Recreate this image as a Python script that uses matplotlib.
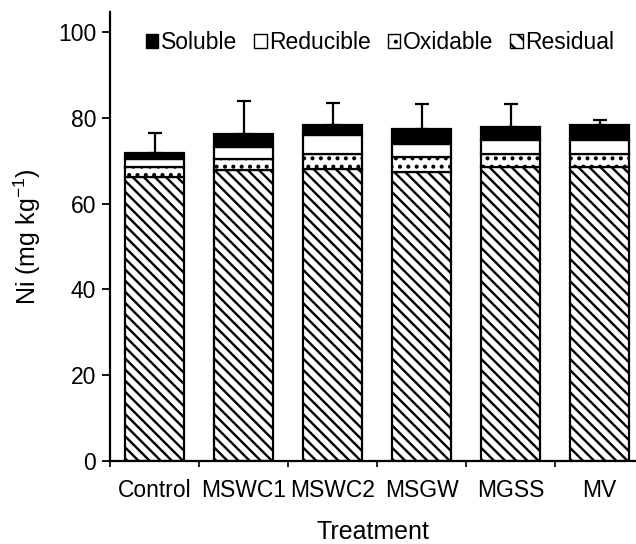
import matplotlib.pyplot as plt
import numpy as np
from matplotlib.patches import Patch

plt.rcParams['font.family'] = ['Liberation Sans', 'DejaVu Sans']
plt.rcParams['mathtext.default'] = 'regular'
plt.rcParams['hatch.linewidth'] = 1.7

treatments = ['Control', 'MSWC1', 'MSWC2', 'MSGW', 'MGSS', 'MV']
residual = [66.2, 67.8, 68.2, 67.3, 68.5, 68.5]
oxidable = [2.4, 2.6, 3.4, 3.5, 3.1, 3.1]
reducible = [1.7, 2.9, 4.3, 3.0, 3.3, 3.3]
soluble = [1.5, 3.0, 2.4, 3.7, 3.0, 3.4]
err_up = [4.7, 7.7, 5.2, 5.7, 5.3, 1.2]

fig = plt.figure(figsize=(6.36, 5.44), dpi=100)
ax = fig.add_axes([0.173, 0.1526, 0.827, 0.8254])

x = np.arange(len(treatments))
w = 0.67
bottom = np.zeros(len(x))
fracs = [
    ('Residual', residual, 'white', '\\\\\\'),
    ('Oxidable', oxidable, 'white', '..'),
    ('Reducible', reducible, 'white', None),
    ('Soluble', soluble, 'black', None),
]
for name, vals, fc, h in fracs:
    ax.bar(x, vals, w, bottom=bottom, color=fc, edgecolor='black',
           linewidth=1.6, hatch=h, zorder=2)
    bottom += np.array(vals)

ax.errorbar(x, bottom, yerr=[np.zeros(len(x)), err_up], fmt='none',
            ecolor='black', elinewidth=1.6, capsize=5, capthick=1.6, zorder=1)

ax.set_xlim(-0.5, 5.41)
ax.set_ylim(0, 104.7)
ax.set_yticks([0, 20, 40, 60, 80, 100])
ax.set_xticks(np.arange(-0.5, 5.0, 1.0))
ax.set_xticklabels([])
ax.set_xticks(x, minor=True)
ax.set_xticklabels(treatments, minor=True)
ax.tick_params(axis='x', which='minor', length=0, labelsize=16.5, pad=13)
ax.tick_params(axis='x', which='major', length=4, width=1.2, direction='out')
ax.tick_params(axis='y', length=6, width=1.3, labelsize=16.5, pad=4)
for s in ['top', 'right']:
    ax.spines[s].set_visible(False)
for s in ['left', 'bottom']:
    ax.spines[s].set_linewidth(1.6)

ax.set_ylabel('Ni (mg kg$^{-1}$)', fontsize=18, labelpad=11)
ax.set_xlabel('Treatment', fontsize=18, labelpad=13)

handles = [
    Patch(facecolor='black', edgecolor='black', label='Soluble'),
    Patch(facecolor='white', edgecolor='black', label='Reducible'),
    Patch(facecolor='white', edgecolor='black', hatch='..', label='Oxidable'),
    Patch(facecolor='white', edgecolor='black', hatch='\\\\', label='Residual'),
]
ax.legend(handles=handles, loc='center', bbox_to_anchor=(0.513, 0.931), ncol=4,
          frameon=False, fontsize=16.5, handlelength=0.55, handleheight=0.55,
          handletextpad=0.1, columnspacing=0.75)

fig.savefig('out.png', dpi=100)
